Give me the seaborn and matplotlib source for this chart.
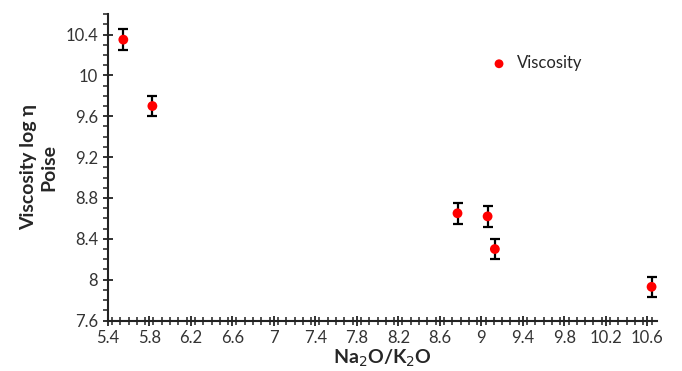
import numpy as np
import pandas as pd
import seaborn as sns
import matplotlib.pyplot as plt
from matplotlib.ticker import MultipleLocator

# ratio Na2O/K2O vs viscosity (log eta, poise)
ratio = [5.55, 5.83, 8.77, 9.06, 9.13, 10.64]
viscosity = [10.35, 9.70, 8.65, 8.62, 8.30, 7.93]
err = [0.1, 0.1, 0.1, 0.1, 0.1, 0.1]

df = pd.DataFrame({'ratio': ratio, 'viscosity': viscosity, 'err': err})

sns.set_style('ticks')
plt.rcParams['font.family'] = ['Lato', 'DejaVu Sans']

fig = plt.figure(figsize=(6.82, 3.71), dpi=100)
ax = fig.add_axes([0.158, 0.136, 0.805, 0.826])

ax.errorbar(df['ratio'], df['viscosity'], yerr=df['err'], fmt='none',
            ecolor='black', elinewidth=1.6, capsize=3.5, capthick=1.6, zorder=2)
sns.scatterplot(data=df, x='ratio', y='viscosity', color='#ff0000', s=50,
                edgecolor='none', label='Viscosity', ax=ax, zorder=3)

ax.set_xlim(5.4, 10.69)
ax.set_ylim(7.6, 10.6)
ax.xaxis.set_minor_locator(MultipleLocator(0.08))
ax.yaxis.set_minor_locator(MultipleLocator(0.1))
ax.set_xticks(np.arange(5.4, 10.61, 0.4))
ax.set_xticklabels(['5.4', '5.8', '6.2', '6.6', '7', '7.4', '7.8', '8.2', '8.6',
                    '9', '9.4', '9.8', '10.2', '10.6'])
ax.set_yticks(np.arange(7.6, 10.41, 0.4))
ax.set_yticklabels(['7.6', '8', '8.4', '8.8', '9.2', '9.6', '10', '10.4'])

ax.tick_params(axis='both', which='major', direction='inout', length=7,
               width=1.3, labelsize=12, colors='#222222', labelcolor='#333333')
ax.tick_params(axis='both', which='minor', direction='out', length=3.5,
               width=1.1, colors='#222222')
ax.tick_params(axis='x', which='minor', direction='inout', length=6)
for side in ['left', 'bottom']:
    ax.spines[side].set_linewidth(1.5)
    ax.spines[side].set_color('#222222')
sns.despine(ax=ax)

ax.set_xlabel('Na$_2$O/K$_2$O', fontsize=14, fontweight='bold', labelpad=1)
ax.set_ylabel('Viscosity log η\nPoise', fontsize=14, fontweight='bold', labelpad=6)

ax.legend(loc='center left', bbox_to_anchor=(0.655, 0.84), frameon=False,
          fontsize=12, handletextpad=0.1, markerscale=0.9)

fig.savefig('out.png', dpi=100)
